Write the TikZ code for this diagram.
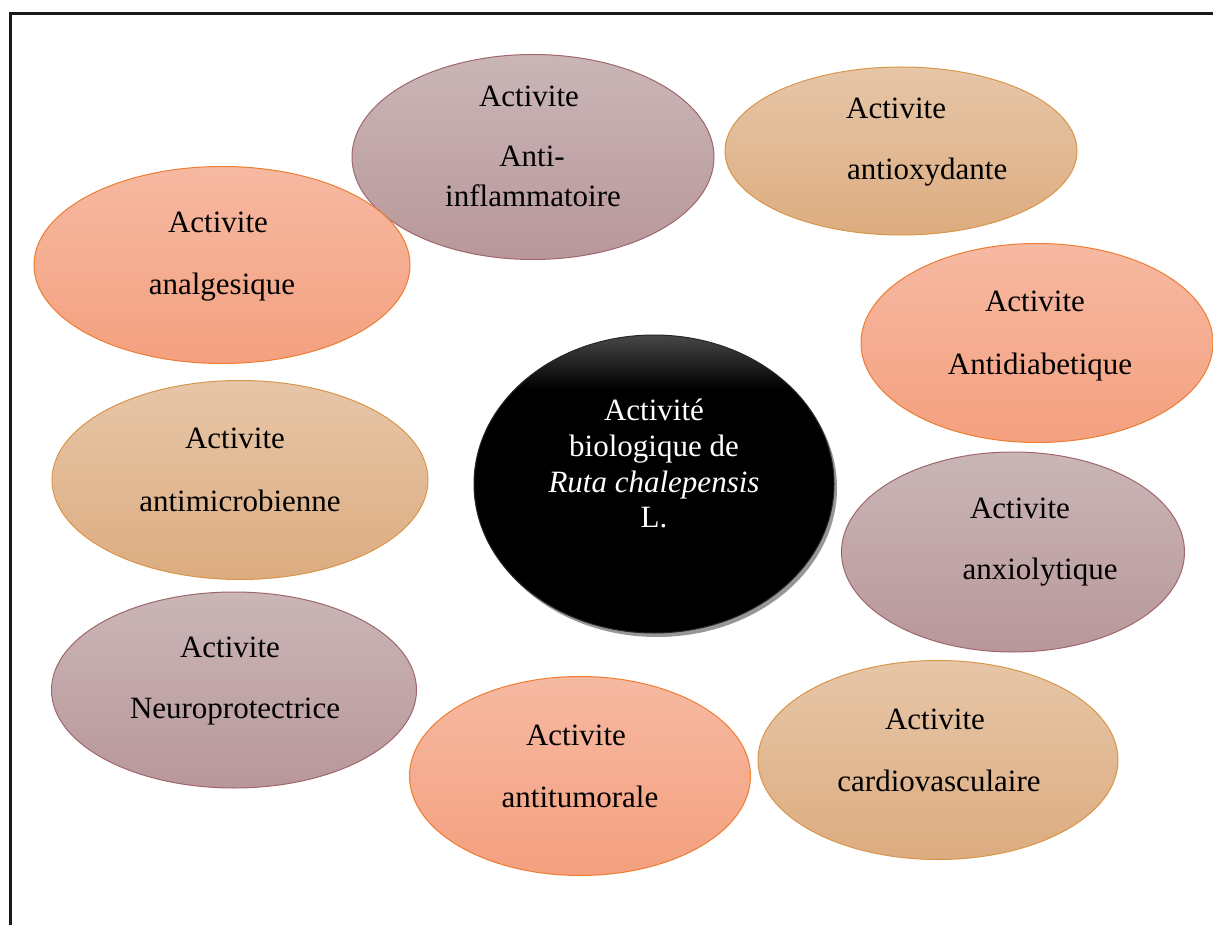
\documentclass[tikz,border=0pt]{standalone}
\usepackage{fontspec}
\setmainfont{Liberation Serif}
\usetikzlibrary{shapes.geometric,shadows}
\definecolor{salTop}{HTML}{F6B9A2}
\definecolor{salBot}{HTML}{F4A07F}
\definecolor{salLine}{HTML}{ED7D31}
\definecolor{tanTop}{HTML}{E6C6A8}
\definecolor{tanBot}{HTML}{DDAC80}
\definecolor{tanLine}{HTML}{D8964A}
\definecolor{mauTop}{HTML}{CAB6B7}
\definecolor{mauBot}{HTML}{B8979A}
\definecolor{mauLine}{HTML}{A0666C}
\pgfdeclareverticalshading{rutashade}{100bp}{color(0bp)=(black); color(66bp)=(black); color(75bp)=(black!72); color(100bp)=(black!72)}
\begin{document}
\begin{tikzpicture}[x=1pt,y=-1pt,
  bub/.style={ellipse, inner sep=0pt, outer sep=0pt, line width=1pt},
  salmon/.style={bub, draw=salLine, top color=salTop, bottom color=salBot},
  tan/.style={bub, draw=tanLine, top color=tanTop, bottom color=tanBot},
  mauve/.style={bub, draw=mauLine, top color=mauTop, bottom color=mauBot},
  txt/.style={anchor=base, inner sep=0pt, font=\fontsize{31}{36}\selectfont, text=black},
  wtxt/.style={txt, text=white},
  frame/.style={line width=3pt, draw=black!90}
]
\useasboundingbox (0,0) rectangle (1213,925);

% frame
\coordinate (fBL) at (10,925);
\coordinate (fTR) at (1213,13.5);
\draw[frame] (fBL) |- (fTR);

% ellipses
\node[mauve,  minimum width=362pt, minimum height=205pt] (inflam) at (533,157) {};
\node[tan,    minimum width=352pt, minimum height=168pt] (oxyd)   at (901,151) {};
\node[salmon, minimum width=376pt, minimum height=197pt] (analg)  at (222,265) {};
\node[salmon, minimum width=352pt, minimum height=199pt] (diab)   at (1037,343) {};
\node[tan,    minimum width=376pt, minimum height=199pt] (micro)  at (240,480) {};
\node[mauve,  minimum width=343pt, minimum height=200pt] (anxio)  at (1013,552) {};
\node[mauve,  minimum width=365pt, minimum height=196pt] (neuro)  at (234,690) {};
\node[salmon, minimum width=341pt, minimum height=199pt] (tumor)  at (580,776) {};
\node[tan,    minimum width=360pt, minimum height=199pt] (cardio) at (938,760) {};
\node[bub, minimum width=360pt, minimum height=298pt, draw=black!85,
      shading=rutashade,
      drop shadow={shadow xshift=3pt, shadow yshift=-4pt, fill=black!45, opacity=0.9}] (ruta) at (654,484) {};

% texts
\node[txt] (inflamA) at (529,107) {Activite};
\node[txt] (inflamB) at (532,167) {Anti-};
\node[txt] (inflamC) at (533,207) {inflammatoire};

\node[txt, anchor=base west] (oxydA) at (846,119) {Activite};
\node[txt, anchor=base west] (oxydB) at (847,180) {antioxydante};

\node[txt] (analgA) at (218,233) {Activite};
\node[txt] (analgB) at (222,295) {analgesique};

\node[txt] (diabA) at (1035,312) {Activite};
\node[txt] (diabB) at (1040,374) {Antidiabetique};

\node[txt] (microA) at (235,448) {Activite};
\node[txt] (microB) at (240,511) {antimicrobienne};

\node[txt] (anxioA) at (1020,518) {Activite};
\node[txt] (anxioB) at (1040,579) {anxiolytique};

\node[txt] (neuroA) at (230,657) {Activite};
\node[txt] (neuroB) at (235,718) {Neuroprotectrice};

\node[txt] (tumorA) at (576,745) {Activite};
\node[txt] (tumorB) at (580,807) {antitumorale};

\node[txt] (cardioA) at (935,729) {Activite};
\node[txt] (cardioB) at (939,791) {cardiovasculaire};

\node[wtxt] (rutaA) at (654,420) {Activité};
\node[wtxt] (rutaB) at (654,456) {biologique de};
\node[wtxt] (rutaC) at (654,492) {\itshape Ruta chalepensis};
\node[wtxt] (rutaD) at (654,527) {L.};
\end{tikzpicture}
\end{document}
